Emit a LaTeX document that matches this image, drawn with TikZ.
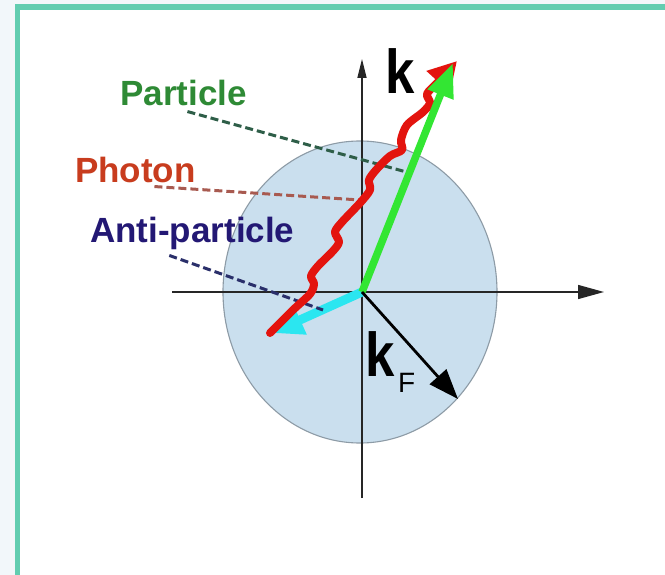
\documentclass[tikz,border=0pt]{standalone}
\usepackage{fontspec}
\setmainfont{Liberation Sans}
\usepackage{tikz}
\usetikzlibrary{arrows.meta,calc,positioning}
\definecolor{framegreen}{HTML}{62CDB0}
\definecolor{pagetint}{HTML}{F2F7FA}
\definecolor{spherefill}{HTML}{CADFEE}
\definecolor{sphereline}{HTML}{8D9BA6}
\definecolor{particlegreen}{HTML}{2E8A35}
\definecolor{photonred}{HTML}{C83C1E}
\definecolor{antiblue}{HTML}{231874}
\definecolor{arrowgreen}{HTML}{33E633}
\definecolor{arrowred}{HTML}{E3140E}
\definecolor{arrowcyan}{HTML}{2BE6F0}
\definecolor{leadgreen}{HTML}{2E5E48}
\definecolor{leadred}{HTML}{A85A50}
\definecolor{leadblue}{HTML}{2A2F6A}
\tikzset{
  axisline/.style={black!85, line width=1.4pt},
  fermisphere/.style={draw=sphereline, fill=spherefill, line width=1.1pt},
  labeltext/.style={inner sep=0pt, anchor=base west, font=\fontsize{35}{40}\selectfont\bfseries},
  leader/.style={line width=3pt, dash pattern=on 8pt off 4pt},
  particlevec/.style={arrowgreen, line width=7.5pt, -{Triangle[length=34pt,width=26pt]}},
  photonline/.style={arrowred, line width=8pt, line join=round, line cap=round, -{Triangle[length=28pt,width=30pt]}},
  antivec/.style={arrowcyan, line width=9pt, -{Triangle[length=32pt,width=30pt]}},
  fermivec/.style={black, line width=2.8pt, -{Triangle[length=30pt,width=22pt]}}
}

\begin{document}
\begin{tikzpicture}[x=1pt,y=-1pt]
  \useasboundingbox (0,0) rectangle (665,575);
  \fill[pagetint] (0,0) rectangle (665,575);
  \fill[white] (17,7) rectangle (680,590);
  \draw[framegreen, line width=5.5pt] (17.5,7) rectangle (690,600);
  % Fermi sphere and axes
  \draw[fermisphere] (360,292) ellipse [x radius=137pt, y radius=151pt];
  \coordinate (O) at (362,292);
  \coordinate (xl) at (172,292);
  \coordinate (xr) at (604,292);
  \coordinate (yb) at (362,498);
  \coordinate (yt) at (362,59);
  \draw[axisline, -{Triangle[length=26pt,width=14pt]}] (xl) -- (xr);
  \draw[axisline, -{Triangle[length=19pt,width=9pt]}] (yb) -- (yt);
  \node[inner sep=0pt, anchor=base west] (klabel) at (385,94)
    {\scalebox{0.85}[1]{\fontsize{62}{70}\selectfont\bfseries k}};
  % labels
  \node[labeltext, particlegreen] (particle) at (120,106) {Particle};
  \node[labeltext, photonred] (photon) at (75,183) {Photon};
  \node[labeltext, antiblue] (anti) at (90,243) {Anti-particle};
  % vectors
  \coordinate (ptip) at (453,63);
  \coordinate (rtip) at (457,61);
  \coordinate (atip) at (271,333);
  \coordinate (ftip) at (458,399);
  \coordinate (pmark) at (410,173);
  \coordinate (rmark) at (360,200);
  \coordinate (amark) at (323,310);
  \draw[antivec] (O) -- (atip);
  \draw[leader, leadgreen] ($(particle.south)+(4,5)$) -- (pmark);
  \draw[leader, leadred] ($(photon.south)+(19,3)$) -- (rmark);
  \draw[leader, leadblue] ($(anti.south)+(-23,5)$) -- (amark);
  \draw[photonline] plot[smooth, tension=0.5] coordinates {
    (270,333) (293,310) (310,294) (314,284) (311,276) (318,266) (333,251)
    (339,242) (335,232) (342,222) (360,203) (370,190) (369,180) (376,170)
    (390,156) (402,150) (401,140) (407,125) (423,112) (430,103) (427,94)
    (437,83) (rtip)};
  \draw[particlevec] (O) -- (ptip);
  \draw[fermivec] (O) -- (ftip);
  \node[inner sep=0pt, anchor=base west] (kf) at (365,377)
    {\scalebox{0.85}[1]{\fontsize{62}{70}\selectfont\bfseries k}};
  \node[inner sep=0pt, anchor=base west, font=\fontsize{28}{30}\selectfont] (kfsub) at (398,392) {F};
\end{tikzpicture}
\end{document}
